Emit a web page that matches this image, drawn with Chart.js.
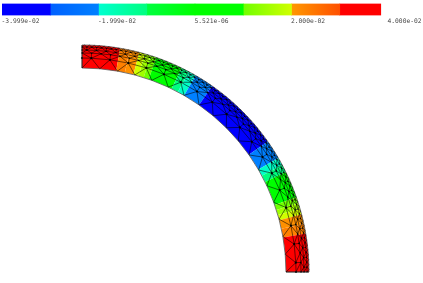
<!DOCTYPE html>
<html>
<head>
<meta charset="utf-8">
<title>Contour plot</title>
<script src="https://cdn.jsdelivr.net/npm/chart.js@4/dist/chart.umd.min.js"></script>
<style>
    html, body { margin: 0; padding: 0; background: #fff; width: 423px; height: 283px; overflow: hidden; }
    canvas { position: absolute; display: block; }
    #barChart { left: 0; top: 0; }
    #bandChart { left: 82px; top: 45px; }
    #meshChart { left: 0; top: 0; }
</style>
</head>
<body>
<canvas id="barChart" width="430" height="27"></canvas>
<canvas id="bandChart" width="227" height="227"></canvas>
<canvas id="meshChart" width="423" height="283"></canvas>
<script>
// Colour bar
const barEdges = [-0.04, -0.03, -0.02, -0.01, 0, 0.01, 0.02, 0.03, 0.0385];
const barColorsFrom = ['#0000ff', '#0060ff', '#00ffd0', '#00ff40', '#00ff00', '#70ff00', '#ff9800', '#ff0000'];
const barColorsTo = ['#0000ff', '#0080ff', '#00ff80', '#00ff00', '#00ff00', '#d0ff00', '#ff5000', '#ff0000'];
const tickValues = [-3.999e-2, -1.999e-2, 5.521e-6, 2.000e-2, 4.000e-2];
const tickLabels = ['-3.999e-02', '-1.999e-02', '5.521e-06', '2.000e-02', '4.000e-02'];

// Contour bands along the arc, degrees clockwise from the left end
const bandSpans = [9.7, 2.5, 2.5, 1.5, 1.5, 1.5, 7, 2, 2, 5, 20, 5, 2, 2, 7, 1.5, 1.5, 1.5, 2.5, 2.5, 9.8];
const bandColors = ['#ff0000', '#ff8000', '#ff9000', '#d0ff00', '#a0ff00', '#70ff00', '#00ff00', '#00ff80', '#00ffc8',
    '#0080ff', '#0000ff', '#0080ff', '#00ffc8', '#00ff80', '#00ff00', '#70ff00', '#a0ff00', '#d0ff00', '#ff9000', '#ff8000', '#ff0000'];

// Mesh rings, from the inner edge to the outer edge
const ringRadii = [204, 214, 219, 222, 225, 227];
const ringSteps = [5, 5, 2.5, 2.5, 1.25, 1.25];
const ringOffsets = [0, 2.5, 0, 1.25, 0, 0.625];
const arcCentre = [82, 272];

const barDatasets = barColorsFrom.map(function(from, i) {
    return {
        data: [[barEdges[i], barEdges[i + 1]]],
        borderWidth: 0,
        backgroundColor: function(c) {
            const x = c.chart.scales.x;
            if (!c.chart.chartArea || !x) return from;
            const g = c.chart.ctx.createLinearGradient(x.getPixelForValue(barEdges[i]), 0, x.getPixelForValue(barEdges[i + 1]), 0);
            g.addColorStop(0, from);
            g.addColorStop(1, barColorsTo[i]);
            return g;
        }
    };
});

new Chart(document.getElementById('barChart'), {
    type: 'bar',
    data: { labels: ['range'], datasets: barDatasets },
    options: {
        indexAxis: 'y',
        responsive: false,
        animation: false,
        barPercentage: 1,
        categoryPercentage: 1,
        layout: { padding: { left: 2, right: 42, top: 3.5, bottom: 0 } },
        plugins: { legend: { display: false }, tooltip: { enabled: false } },
        scales: {
            y: { display: false, stacked: true },
            x: {
                min: -0.04,
                max: 0.04,
                border: { display: false },
                grid: { display: false, drawTicks: false },
                afterBuildTicks: function(axis) {
                    axis.ticks = tickValues.map(function(v) { return { value: v }; });
                },
                ticks: {
                    align: 'start',
                    autoSkip: false,
                    maxRotation: 0,
                    padding: 2,
                    labelOffset: -0.5,
                    color: '#444',
                    font: { family: '"DejaVu Sans Mono"', size: 6.3 },
                    callback: function(v, i) { return tickLabels[i]; }
                }
            }
        }
    }
});

new Chart(document.getElementById('bandChart'), {
    type: 'doughnut',
    data: {
        labels: bandColors,
        datasets: [{ data: bandSpans, backgroundColor: bandColors, borderWidth: 0 }]
    },
    options: {
        responsive: false,
        animation: false,
        rotation: 0,
        circumference: 90,
        cutout: (ringRadii[0] / ringRadii[ringRadii.length - 1] * 100) + '%',
        plugins: { legend: { display: false }, tooltip: { enabled: false } }
    }
});

// Node of a ring, as a point on the page-sized scales
function nodeAt(r, deg) {
    const a = deg * Math.PI / 180;
    return { x: arcCentre[0] + r * Math.sin(a), y: arcCentre[1] - r * Math.cos(a), deg: deg };
}

const rings = ringRadii.map(function(r, i) {
    const nodes = [nodeAt(r, 0)];
    for (let d = ringOffsets[i] || ringSteps[i]; d < 90; d += ringSteps[i]) nodes.push(nodeAt(r, d));
    nodes.push(nodeAt(r, 90));
    return nodes;
});

const gap = { x: NaN, y: NaN };
const outline = [];
const ringLines = [];
const spokes = [];
rings.forEach(function(nodes, i) {
    const target = (i === 0 || i === rings.length - 1) ? outline : ringLines;
    nodes.forEach(function(n) { target.push(n); });
    target.push(gap);
    if (i === 0) return;
    // Zip the two neighbouring rings into triangles
    const inner = rings[i - 1];
    let a = 0, b = 0;
    spokes.push(inner[a], nodes[b], gap);
    while (a < inner.length - 1 || b < nodes.length - 1) {
        const nextA = a < inner.length - 1 ? inner[a + 1].deg : Infinity;
        const nextB = b < nodes.length - 1 ? nodes[b + 1].deg : Infinity;
        if (nextA <= nextB) a++; else b++;
        spokes.push(inner[a], nodes[b], gap);
    }
});
outline.push(rings[0][0], rings[rings.length - 1][0], gap);
outline.push(rings[0][rings[0].length - 1], rings[rings.length - 1][rings[rings.length - 1].length - 1], gap);

new Chart(document.getElementById('meshChart'), {
    type: 'scatter',
    data: {
        datasets: [
            { data: spokes, showLine: true, spanGaps: false, borderColor: 'rgba(0,0,0,0.85)', borderWidth: 0.65, borderDash: [9999, 1], pointRadius: 0 },
            { data: ringLines, showLine: true, spanGaps: false, borderColor: 'rgba(0,0,0,0.85)', borderWidth: 0.65, borderDash: [9999, 1], pointRadius: 0 },
            { data: outline, showLine: true, spanGaps: false, borderColor: '#555', borderWidth: 0.8, borderDash: [9999, 1], pointRadius: 0 },
            { data: rings[1], showLine: false, pointRadius: 1.1, pointBackgroundColor: '#000', pointBorderWidth: 0 },
            { data: rings[2], showLine: false, pointRadius: 0.8, pointBackgroundColor: '#000', pointBorderWidth: 0 },
            { data: rings[3], showLine: false, pointRadius: 0.7, pointBackgroundColor: '#000', pointBorderWidth: 0 },
            { data: rings[4], showLine: false, pointRadius: 0.6, pointBackgroundColor: '#000', pointBorderWidth: 0 }
        ]
    },
    options: {
        responsive: false,
        animation: false,
        layout: { padding: 0, autoPadding: false },
        plugins: { legend: { display: false }, tooltip: { enabled: false } },
        scales: {
            x: { display: false, min: 0, max: 423 },
            y: { display: false, min: 0, max: 283, reverse: true }
        }
    }
});
</script>
</body>
</html>
